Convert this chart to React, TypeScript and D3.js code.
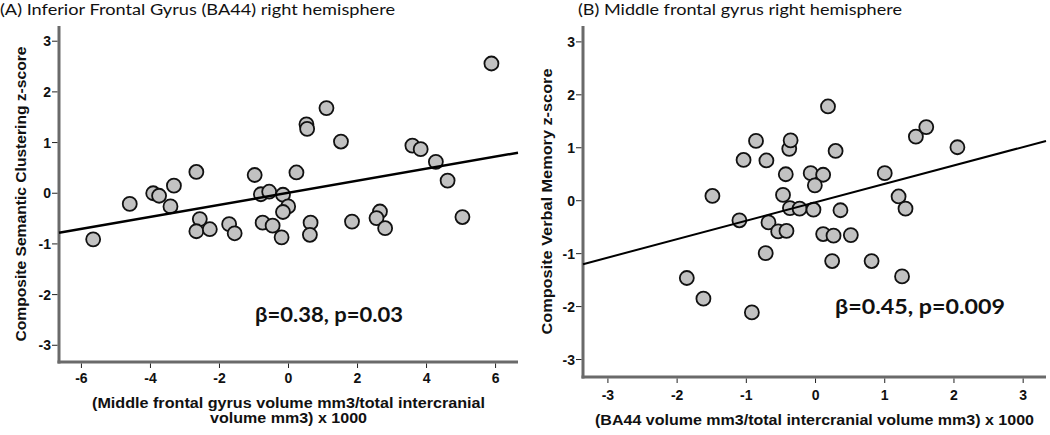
import React from "react";
import * as d3 from "d3";

// ---------- Data ----------
const leftX = [-5.66, -4.6, -3.92, -3.75, -3.32, -3.42, -2.67, -2.57, -2.67, -2.28, -1.72, -1.56, -0.98, -0.8, -0.56, -0.75, -0.46, -0.16, -0.01, -0.16, -0.2, 0.23, 0.52, 0.54, 1.1, 1.52, 0.64, 0.62, 1.84, 5.88, 3.59, 3.83, 4.27, 4.61, 5.04, 2.65, 2.55, 2.8];
const leftY = [-0.91, -0.21, 0.0, -0.05, 0.15, -0.26, 0.42, -0.51, -0.75, -0.71, -0.61, -0.79, 0.36, -0.02, 0.03, -0.58, -0.64, -0.03, -0.26, -0.37, -0.87, 0.41, 1.36, 1.27, 1.68, 1.02, -0.58, -0.82, -0.56, 2.56, 0.94, 0.87, 0.62, 0.25, -0.47, -0.36, -0.49, -0.69];

const rightX = [-1.86, -1.62, -0.92, -1.49, -1.1, -1.04, -0.86, -0.71, -0.38, -0.36, -0.43, -0.47, -0.37, -0.23, -0.03, -0.07, 0.11, -0.01, -0.68, -0.54, -0.42, -0.72, 0.18, 0.29, 0.36, 0.11, 0.26, 0.51, 0.24, 0.81, 1.25, 1.0, 1.2, 1.3, 1.45, 1.6, 2.05];
const rightY = [-1.46, -1.85, -2.11, 0.09, -0.37, 0.77, 1.13, 0.76, 0.98, 1.14, 0.5, 0.11, -0.14, -0.15, -0.17, 0.52, 0.49, 0.29, -0.41, -0.58, -0.57, -0.99, 1.78, 0.94, -0.18, -0.63, -0.66, -0.65, -1.14, -1.14, -1.43, 0.52, 0.08, -0.15, 1.21, 1.39, 1.01];

const leftXTicks = [-6, -4, -2, 0, 2, 4, 6];
const rightXTicks = [-3, -2, -1, 0, 1, 2, 3];
const yTicks = [-3, -2, -1, 0, 1, 2, 3];

const leftFit = { slope: 0.1188, intercept: 0.01 };
const rightFit = { slope: 0.348, intercept: -0.03 };

const leftTitle = "(A) Inferior Frontal Gyrus (BA44) right hemisphere";
const rightTitle = "(B) Middle frontal gyrus right hemisphere";
const leftYLabel = "Composite Semantic Clustering z-score";
const rightYLabel = "Composite Verbal Memory z-score";
const leftXLabel = ["(Middle frontal gyrus volume mm3/total intercranial", "volume mm3) x 1000"];
const rightXLabel = ["(BA44 volume mm3/total intercranial volume mm3) x 1000"];
const leftStat = "β=0.38, p=0.03";
const rightStat = "β=0.45, p=0.009";

const AXIS_FONT = "'Liberation Sans', Arial, sans-serif";
const TITLE_FONT = "Lato, 'Open Sans', sans-serif";

type PanelProps = {
  xs: number[];
  ys: number[];
  xDomain: [number, number];
  xRange: [number, number];
  yDomain: [number, number];
  yRange: [number, number];
  xTicks: number[];
  fit: { slope: number; intercept: number };
  fitWidth: number;
  title: string;
  titleX: number;
  titleLen: number;
  yLabel: string;
  yLabelX: number;
  yLabelLen: number;
  xLabel: string[];
  xLabelLens: number[];
  xLabelY: number;
  tickLabelY: number;
  stat: string;
  statX: number;
  statY: number;
  statLen: number;
};

function Panel(p: PanelProps) {
  const x = d3.scaleLinear().domain(p.xDomain).range(p.xRange);
  const y = d3.scaleLinear().domain(p.yDomain).range(p.yRange);
  const x0 = p.xRange[0];
  const yBottom = p.yRange[0];
  const yTop = p.yRange[1];
  const line = d3
    .line<number>()
    .x((d) => x(d))
    .y((d) => y(p.fit.intercept + p.fit.slope * d));
  const pts = p.xs.map((v, i) => ({ x: v, y: p.ys[i] }));
  const xMid = (p.xRange[0] + p.xRange[1]) / 2;
  return (
    <g>
      <text
        x={p.titleX}
        y={14.5}
        fontFamily={TITLE_FONT}
        fontSize={15}
        fill="#111"
        textLength={p.titleLen}
        lengthAdjust="spacingAndGlyphs"
      >
        {p.title}
      </text>
      {/* axes */}
      <line x1={x0} x2={x0} y1={yTop} y2={yBottom + 1.5} stroke="#6a6a6a" strokeWidth={3} />
      <line x1={x0 - 1.5} x2={p.xRange[1]} y1={yBottom} y2={yBottom} stroke="#6a6a6a" strokeWidth={3} />
      {yTicks.map((t) => (
        <g key={"y" + t}>
          <line x1={x0 - 7} x2={x0 - 1.5} y1={y(t)} y2={y(t)} stroke="#222" strokeWidth={1} />
          <text
            x={x0 - 8}
            y={y(t)}
            dy="0.36em"
            textAnchor="end"
            fontFamily={AXIS_FONT}
            fontWeight="bold"
            fontSize={14}
            fill="#111"
          >
            {t}
          </text>
        </g>
      ))}
      {p.xTicks.map((t) => (
        <g key={"x" + t}>
          <line x1={x(t)} x2={x(t)} y1={yBottom + 1.5} y2={yBottom + 6} stroke="#222" strokeWidth={1} />
          <text
            x={x(t)}
            y={p.tickLabelY}
            textAnchor="middle"
            fontFamily={AXIS_FONT}
            fontWeight="bold"
            fontSize={14}
            fill="#111"
          >
            {t}
          </text>
        </g>
      ))}
      <text
        transform={`translate(${p.yLabelX},${(yTop + yBottom) / 2}) rotate(-90)`}
        textAnchor="middle"
        fontFamily={AXIS_FONT}
        fontWeight="bold"
        fontSize={14}
        fill="#111"
        textLength={p.yLabelLen}
        lengthAdjust="spacingAndGlyphs"
      >
        {p.yLabel}
      </text>
      {p.xLabel.map((s, i) => (
        <text
          key={i}
          x={xMid}
          y={p.xLabelY + i * 15}
          textAnchor="middle"
          fontFamily={AXIS_FONT}
          fontWeight="bold"
          fontSize={14}
          fill="#111"
          textLength={p.xLabelLens[i]}
          lengthAdjust="spacingAndGlyphs"
        >
          {s}
        </text>
      ))}
      {/* points */}
      {pts.map((d, i) => (
        <circle key={i} cx={x(d.x)} cy={y(d.y)} r={7} fill="#c2c2c2" stroke="#111" strokeWidth={1.8} />
      ))}
      {/* fit line */}
      <path d={line(p.xDomain as number[]) || ""} stroke="#000" strokeWidth={p.fitWidth} fill="none" />
      <text
        x={p.statX}
        y={p.statY}
        fontFamily={TITLE_FONT}
        fontWeight="bold"
        fontSize={20}
        fill="#111"
        textLength={p.statLen}
        lengthAdjust="spacingAndGlyphs"
      >
        {p.stat}
      </text>
    </g>
  );
}

export default function App() {
  return (
    <svg
      width={1050}
      height={435}
      style={{ position: "absolute", left: 0, top: 0, display: "block", background: "#fff" }}
    >
      <rect width={1050} height={435} fill="#fff" />
      <Panel
        xs={leftX}
        ys={leftY}
        xDomain={[-6.65, 6.65]}
        xRange={[59, 518]}
        yDomain={[-3.33, 3.3]}
        yRange={[362, 26]}
        xTicks={leftXTicks}
        fit={leftFit}
        fitWidth={2.5}
        title={leftTitle}
        titleX={0}
        titleLen={395}
        yLabel={leftYLabel}
        yLabelX={25.5}
        yLabelLen={295}
        xLabel={leftXLabel}
        xLabelLens={[393, 157]}
        xLabelY={408}
        tickLabelY={383}
        stat={leftStat}
        statX={255}
        statY={322}
        statLen={148}
      />
      <Panel
        xs={rightX}
        ys={rightY}
        xDomain={[-3.36, 3.33]}
        xRange={[583, 1046]}
        yDomain={[-3.33, 3.3]}
        yRange={[377, 26]}
        xTicks={rightXTicks}
        fit={rightFit}
        fitWidth={2}
        title={rightTitle}
        titleX={578}
        titleLen={324}
        yLabel={rightYLabel}
        yLabelX={552}
        yLabelLen={266}
        xLabel={rightXLabel}
        xLabelLens={[439]}
        xLabelY={425}
        tickLabelY={400}
        stat={rightStat}
        statX={835}
        statY={314}
        statLen={170}
      />
    </svg>
  );
}
